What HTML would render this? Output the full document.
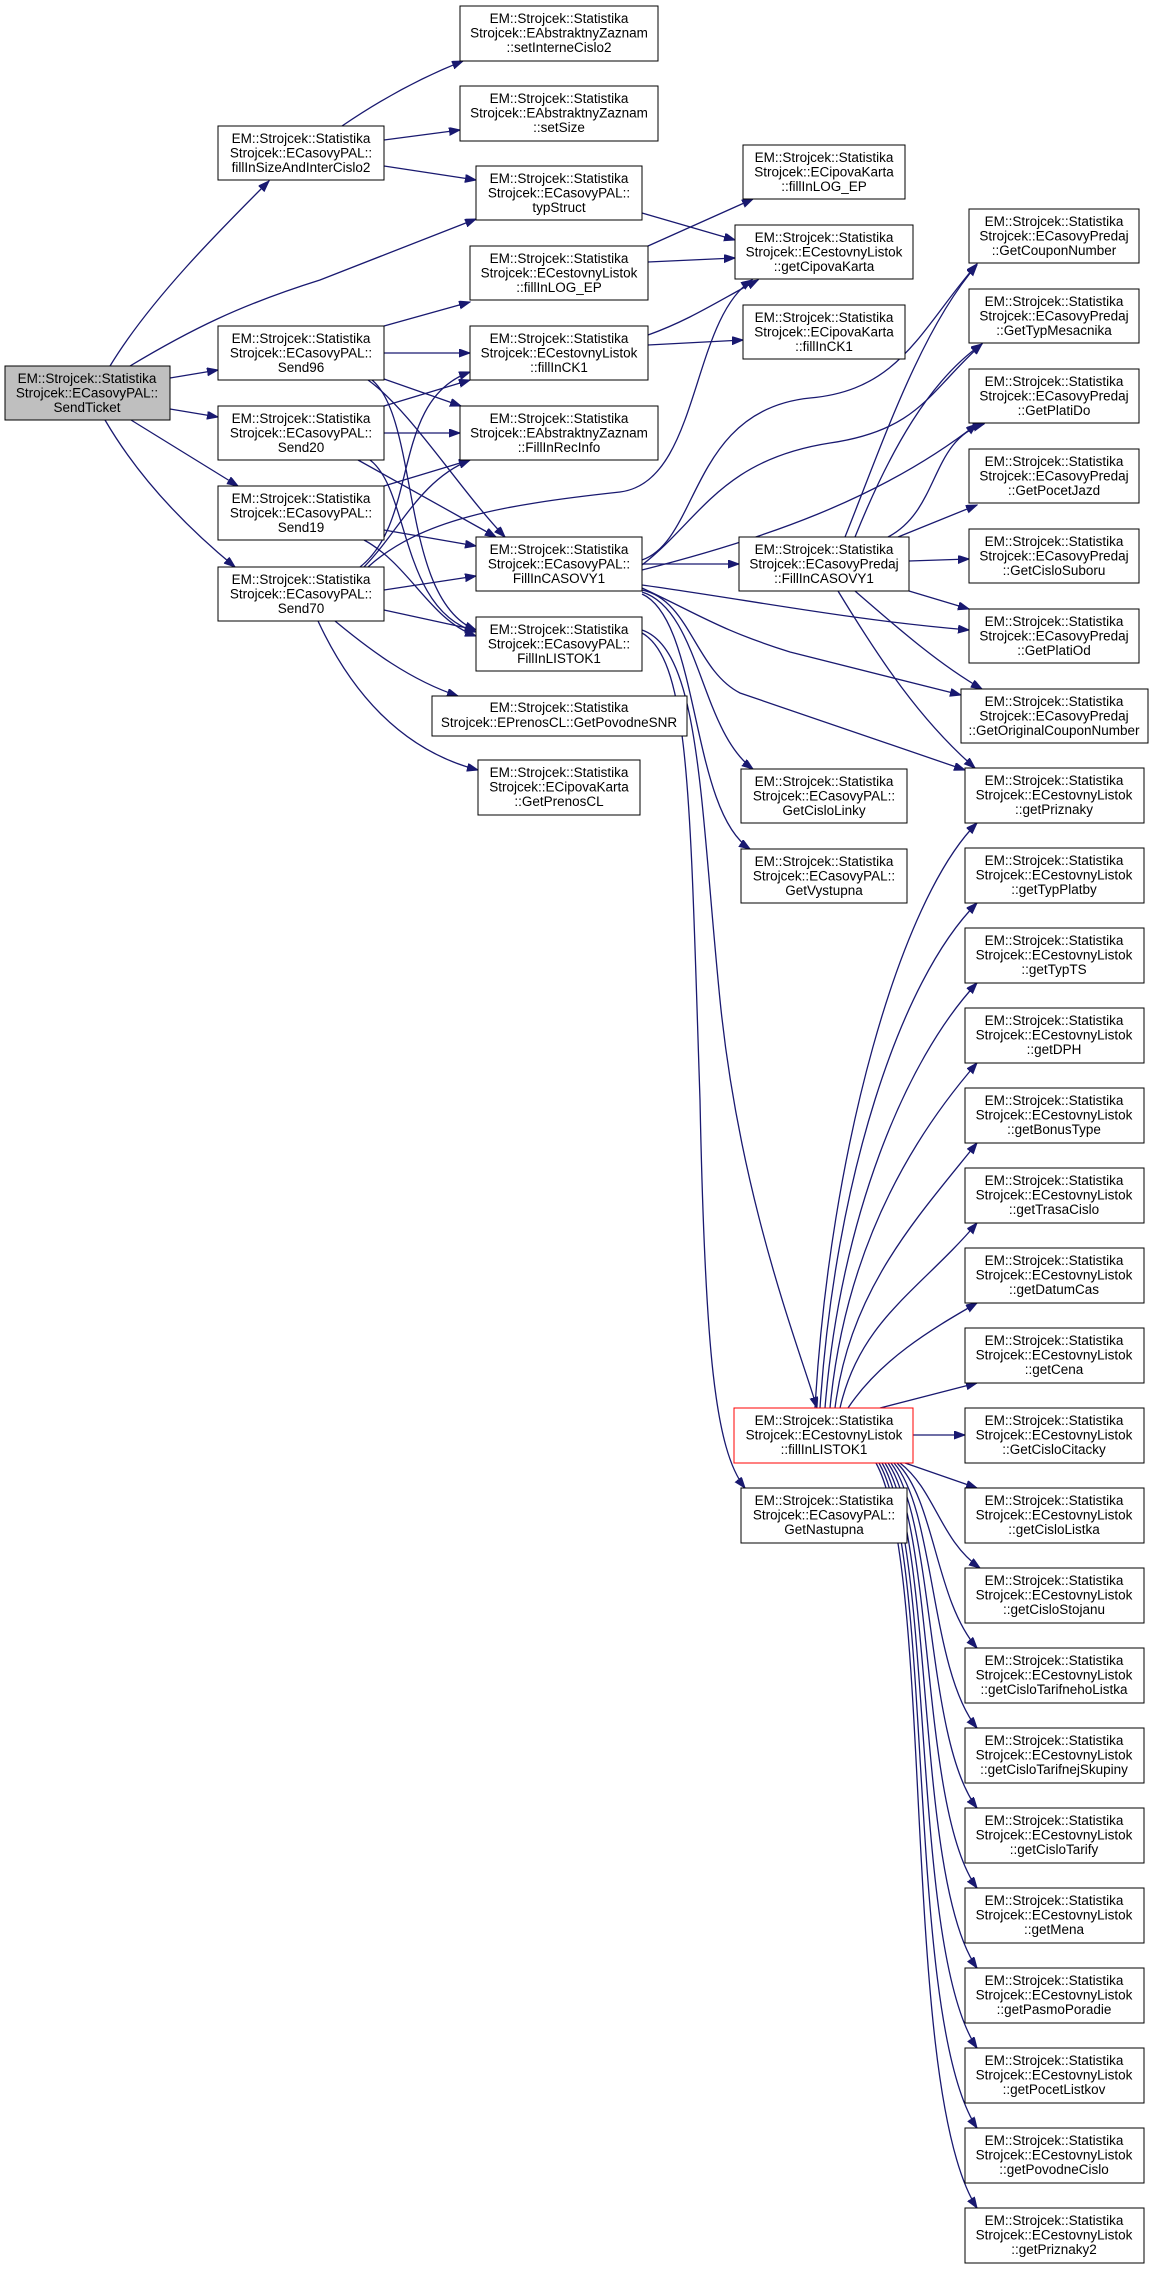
<!DOCTYPE html>
<html><head><meta charset="utf-8"><style>
html,body{margin:0;padding:0;background:#fff}
svg{display:block}
text{font-family:"Liberation Sans",sans-serif;font-size:13.5px;fill:#000}
.n{fill:#fff;stroke:#000;stroke-width:1}
.e{fill:none;stroke:#191970;stroke-width:1.3}
</style></head><body>
<svg width="1153" height="2269" viewBox="0 0 1153 2269" xmlns="http://www.w3.org/2000/svg">
<defs><marker id="a" markerUnits="userSpaceOnUse" markerWidth="12" markerHeight="9" refX="11" refY="4" orient="auto"><path d="M0,0 L11,4 L0,8 z" fill="#191970" stroke="#191970"/></marker></defs>
<g class="edges" marker-end="url(#a)">
<path class="e" marker-end="url(#a)" d="M110,366 C150,300 220,230 269,181"/>
<path class="e" marker-end="url(#a)" d="M130,366 C190,330 240,305 320,280 L476,219"/>
<path class="e" marker-end="url(#a)" d="M170,378 L218,370"/>
<path class="e" marker-end="url(#a)" d="M170,409 L218,417"/>
<path class="e" marker-end="url(#a)" d="M131,420 L238,486"/>
<path class="e" marker-end="url(#a)" d="M105,420 C140,480 190,530 235,567"/>
<path class="e" marker-end="url(#a)" d="M342,126 C380,100 420,78 463,61"/>
<path class="e" marker-end="url(#a)" d="M384,140 L460,130"/>
<path class="e" marker-end="url(#a)" d="M384,166 L476,180"/>
<path class="e" marker-end="url(#a)" d="M384,326 L470,302"/>
<path class="e" marker-end="url(#a)" d="M384,353 L470,353"/>
<path class="e" marker-end="url(#a)" d="M384,379 L461,406"/>
<path class="e" marker-end="url(#a)" d="M368,380 C410,410 460,490 505,537"/>
<path class="e" marker-end="url(#a)" d="M372,380 C420,420 400,600 476,630"/>
<path class="e" marker-end="url(#a)" d="M384,406 L470,380"/>
<path class="e" marker-end="url(#a)" d="M384,433 L460,433"/>
<path class="e" marker-end="url(#a)" d="M358,460 L496,537"/>
<path class="e" marker-end="url(#a)" d="M370,460 C410,490 400,610 476,632"/>
<path class="e" marker-end="url(#a)" d="M384,486 L470,460"/>
<path class="e" marker-end="url(#a)" d="M384,530 L476,546"/>
<path class="e" marker-end="url(#a)" d="M364,540 C410,565 430,620 476,636"/>
<path class="e" marker-end="url(#a)" d="M360,567 C420,520 390,400 470,372"/>
<path class="e" marker-end="url(#a)" d="M364,567 C400,530 420,480 470,460"/>
<path class="e" marker-end="url(#a)" d="M368,567 C420,520 500,505 620,492 C700,482 690,320 752,280"/>
<path class="e" marker-end="url(#a)" d="M384,590 L476,576"/>
<path class="e" marker-end="url(#a)" d="M384,610 L476,630"/>
<path class="e" marker-end="url(#a)" d="M335,621 C370,650 410,680 458,696"/>
<path class="e" marker-end="url(#a)" d="M318,621 C350,690 400,750 478,770"/>
<path class="e" marker-end="url(#a)" d="M642,213 L735,240"/>
<path class="e" marker-end="url(#a)" d="M648,246 L753,199"/>
<path class="e" marker-end="url(#a)" d="M648,262 L735,258"/>
<path class="e" marker-end="url(#a)" d="M648,335 C690,320 720,300 758,280"/>
<path class="e" marker-end="url(#a)" d="M648,345 L743,340"/>
<path class="e" marker-end="url(#a)" d="M642,560 C700,540 690,410 810,398 C900,390 920,330 977,264"/>
<path class="e" marker-end="url(#a)" d="M642,565 C700,520 720,460 830,443 C920,430 930,390 982,344"/>
<path class="e" marker-end="url(#a)" d="M642,570 C760,540 880,500 977,424"/>
<path class="e" marker-end="url(#a)" d="M642,564 L739,564"/>
<path class="e" marker-end="url(#a)" d="M642,585 C750,600 850,620 969,630"/>
<path class="e" marker-end="url(#a)" d="M642,588 C700,615 720,630 790,652 L961,695"/>
<path class="e" marker-end="url(#a)" d="M642,590 C690,600 695,670 740,693 L965,770"/>
<path class="e" marker-end="url(#a)" d="M642,592 C700,610 700,730 753,769"/>
<path class="e" marker-end="url(#a)" d="M642,594 C700,620 690,810 750,849"/>
<path class="e" marker-end="url(#a)" d="M845,537 C880,450 920,330 977,265"/>
<path class="e" marker-end="url(#a)" d="M855,537 C890,450 930,380 982,344"/>
<path class="e" marker-end="url(#a)" d="M888,537 C940,510 930,440 984,424"/>
<path class="e" marker-end="url(#a)" d="M898,537 L977,505"/>
<path class="e" marker-end="url(#a)" d="M909,561 L969,559"/>
<path class="e" marker-end="url(#a)" d="M909,591 L969,609"/>
<path class="e" marker-end="url(#a)" d="M855,591 C900,630 940,665 982,689"/>
<path class="e" marker-end="url(#a)" d="M838,591 C880,660 920,720 975,768"/>
<path class="e" marker-end="url(#a)" d="M642,630 C700,650 700,800 720,1000 C740,1200 800,1350 817,1408"/>
<path class="e" marker-end="url(#a)" d="M642,633 C690,660 690,800 700,1100 C705,1350 715,1450 745,1488"/>
<path class="e" marker-end="url(#a)" d="M815,1408 C830,1150 900,900 977,823"/>
<path class="e" marker-end="url(#a)" d="M820,1408 C835,1180 900,980 977,903"/>
<path class="e" marker-end="url(#a)" d="M825,1408 C840,1220 905,1060 977,983"/>
<path class="e" marker-end="url(#a)" d="M830,1408 C845,1250 910,1140 977,1063"/>
<path class="e" marker-end="url(#a)" d="M835,1408 C850,1290 915,1220 977,1143"/>
<path class="e" marker-end="url(#a)" d="M840,1408 C860,1320 920,1290 977,1223"/>
<path class="e" marker-end="url(#a)" d="M848,1408 C880,1360 930,1330 977,1303"/>
<path class="e" marker-end="url(#a)" d="M880,1408 L977,1383"/>
<path class="e" marker-end="url(#a)" d="M913,1435 L965,1435"/>
<path class="e" marker-end="url(#a)" d="M905,1463 L977,1488"/>
<path class="e" marker-end="url(#a)" d="M900,1463 C935,1490 940,1540 980,1568"/>
<path class="e" marker-end="url(#a)" d="M897,1463 C935,1500 935,1600 977,1648"/>
<path class="e" marker-end="url(#a)" d="M894,1463 C935,1510 930,1670 977,1728"/>
<path class="e" marker-end="url(#a)" d="M891,1463 C935,1520 925,1740 977,1808"/>
<path class="e" marker-end="url(#a)" d="M888,1463 C935,1530 920,1810 977,1888"/>
<path class="e" marker-end="url(#a)" d="M885,1463 C935,1540 915,1880 977,1968"/>
<path class="e" marker-end="url(#a)" d="M882,1463 C935,1550 910,1950 977,2048"/>
<path class="e" marker-end="url(#a)" d="M879,1463 C935,1560 905,2020 977,2128"/>
<path class="e" marker-end="url(#a)" d="M876,1463 C935,1570 900,2090 977,2208"/>
</g>

<g text-anchor="middle">
<rect x="5" y="366" width="165" height="54" fill="#bfbfbf" stroke="#000"/>
<text x="87" y="383">EM::Strojcek::Statistika</text><text x="87" y="397.5">Strojcek::ECasovyPAL::</text><text x="87" y="412">SendTicket</text>

<rect class="n" x="218" y="126" width="166" height="54"/><text x="301" y="143">EM::Strojcek::Statistika</text><text x="301" y="157.5">Strojcek::ECasovyPAL::</text><text x="301" y="172">fillInSizeAndInterCislo2</text>
<rect class="n" x="218" y="326" width="166" height="54"/><text x="301" y="343">EM::Strojcek::Statistika</text><text x="301" y="357.5">Strojcek::ECasovyPAL::</text><text x="301" y="372">Send96</text>
<rect class="n" x="218" y="406" width="166" height="54"/><text x="301" y="423">EM::Strojcek::Statistika</text><text x="301" y="437.5">Strojcek::ECasovyPAL::</text><text x="301" y="452">Send20</text>
<rect class="n" x="218" y="486" width="166" height="54"/><text x="301" y="503">EM::Strojcek::Statistika</text><text x="301" y="517.5">Strojcek::ECasovyPAL::</text><text x="301" y="532">Send19</text>
<rect class="n" x="218" y="567" width="166" height="54"/><text x="301" y="584">EM::Strojcek::Statistika</text><text x="301" y="598.5">Strojcek::ECasovyPAL::</text><text x="301" y="613">Send70</text>

<rect class="n" x="460" y="6" width="198" height="55"/><text x="559" y="23">EM::Strojcek::Statistika</text><text x="559" y="37.5">Strojcek::EAbstraktnyZaznam</text><text x="559" y="52">::setInterneCislo2</text>
<rect class="n" x="460" y="86" width="198" height="55"/><text x="559" y="103">EM::Strojcek::Statistika</text><text x="559" y="117.5">Strojcek::EAbstraktnyZaznam</text><text x="559" y="132">::setSize</text>
<rect class="n" x="476" y="166" width="166" height="54"/><text x="559" y="183">EM::Strojcek::Statistika</text><text x="559" y="197.5">Strojcek::ECasovyPAL::</text><text x="559" y="212">typStruct</text>
<rect class="n" x="470" y="246" width="178" height="54"/><text x="559" y="263">EM::Strojcek::Statistika</text><text x="559" y="277.5">Strojcek::ECestovnyListok</text><text x="559" y="292">::fillInLOG_EP</text>
<rect class="n" x="470" y="326" width="178" height="54"/><text x="559" y="343">EM::Strojcek::Statistika</text><text x="559" y="357.5">Strojcek::ECestovnyListok</text><text x="559" y="372">::fillInCK1</text>
<rect class="n" x="460" y="406" width="198" height="54"/><text x="559" y="423">EM::Strojcek::Statistika</text><text x="559" y="437.5">Strojcek::EAbstraktnyZaznam</text><text x="559" y="452">::FillInRecInfo</text>
<rect class="n" x="476" y="537" width="166" height="54"/><text x="559" y="554">EM::Strojcek::Statistika</text><text x="559" y="568.5">Strojcek::ECasovyPAL::</text><text x="559" y="583">FillInCASOVY1</text>
<rect class="n" x="476" y="617" width="166" height="54"/><text x="559" y="634">EM::Strojcek::Statistika</text><text x="559" y="648.5">Strojcek::ECasovyPAL::</text><text x="559" y="663">FillInLISTOK1</text>
<rect class="n" x="432" y="696" width="255" height="40"/><text x="559" y="712">EM::Strojcek::Statistika</text><text x="559" y="727">Strojcek::EPrenosCL::GetPovodneSNR</text>
<rect class="n" x="478" y="760" width="162" height="55"/><text x="559" y="777">EM::Strojcek::Statistika</text><text x="559" y="791.5">Strojcek::ECipovaKarta</text><text x="559" y="806">::GetPrenosCL</text>

<rect class="n" x="743" y="145" width="162" height="54"/><text x="824" y="162">EM::Strojcek::Statistika</text><text x="824" y="176.5">Strojcek::ECipovaKarta</text><text x="824" y="191">::fillInLOG_EP</text>
<rect class="n" x="735" y="225" width="178" height="54"/><text x="824" y="242">EM::Strojcek::Statistika</text><text x="824" y="256.5">Strojcek::ECestovnyListok</text><text x="824" y="271">::getCipovaKarta</text>
<rect class="n" x="743" y="305" width="162" height="54"/><text x="824" y="322">EM::Strojcek::Statistika</text><text x="824" y="336.5">Strojcek::ECipovaKarta</text><text x="824" y="351">::fillInCK1</text>
<rect class="n" x="739" y="537" width="170" height="54"/><text x="824" y="554">EM::Strojcek::Statistika</text><text x="824" y="568.5">Strojcek::ECasovyPredaj</text><text x="824" y="583">::FillInCASOVY1</text>
<rect class="n" x="741" y="769" width="166" height="54"/><text x="824" y="786">EM::Strojcek::Statistika</text><text x="824" y="800.5">Strojcek::ECasovyPAL::</text><text x="824" y="815">GetCisloLinky</text>
<rect class="n" x="741" y="849" width="166" height="54"/><text x="824" y="866">EM::Strojcek::Statistika</text><text x="824" y="880.5">Strojcek::ECasovyPAL::</text><text x="824" y="895">GetVystupna</text>
<rect x="734" y="1408" width="179" height="55" fill="#fff" stroke="#ff0000"/><text x="824" y="1425">EM::Strojcek::Statistika</text><text x="824" y="1439.5">Strojcek::ECestovnyListok</text><text x="824" y="1454">::fillInLISTOK1</text>
<rect class="n" x="741" y="1488" width="166" height="55"/><text x="824" y="1505">EM::Strojcek::Statistika</text><text x="824" y="1519.5">Strojcek::ECasovyPAL::</text><text x="824" y="1534">GetNastupna</text>

<rect class="n" x="969" y="209" width="170" height="54"/><text x="1054" y="226">EM::Strojcek::Statistika</text><text x="1054" y="240.5">Strojcek::ECasovyPredaj</text><text x="1054" y="255">::GetCouponNumber</text>
<rect class="n" x="969" y="289" width="170" height="54"/><text x="1054" y="306">EM::Strojcek::Statistika</text><text x="1054" y="320.5">Strojcek::ECasovyPredaj</text><text x="1054" y="335">::GetTypMesacnika</text>
<rect class="n" x="969" y="369" width="170" height="54"/><text x="1054" y="386">EM::Strojcek::Statistika</text><text x="1054" y="400.5">Strojcek::ECasovyPredaj</text><text x="1054" y="415">::GetPlatiDo</text>
<rect class="n" x="969" y="449" width="170" height="54"/><text x="1054" y="466">EM::Strojcek::Statistika</text><text x="1054" y="480.5">Strojcek::ECasovyPredaj</text><text x="1054" y="495">::GetPocetJazd</text>
<rect class="n" x="969" y="529" width="170" height="54"/><text x="1054" y="546">EM::Strojcek::Statistika</text><text x="1054" y="560.5">Strojcek::ECasovyPredaj</text><text x="1054" y="575">::GetCisloSuboru</text>
<rect class="n" x="969" y="609" width="170" height="54"/><text x="1054" y="626">EM::Strojcek::Statistika</text><text x="1054" y="640.5">Strojcek::ECasovyPredaj</text><text x="1054" y="655">::GetPlatiOd</text>
<rect class="n" x="961" y="689" width="187" height="54"/><text x="1054" y="706">EM::Strojcek::Statistika</text><text x="1054" y="720.5">Strojcek::ECasovyPredaj</text><text x="1054" y="735">::GetOriginalCouponNumber</text>

<rect class="n" x="965" y="768" width="179" height="55"/><text x="1054" y="785">EM::Strojcek::Statistika</text><text x="1054" y="799.5">Strojcek::ECestovnyListok</text><text x="1054" y="814">::getPriznaky</text>
<rect class="n" x="965" y="848" width="179" height="55"/><text x="1054" y="865">EM::Strojcek::Statistika</text><text x="1054" y="879.5">Strojcek::ECestovnyListok</text><text x="1054" y="894">::getTypPlatby</text>
<rect class="n" x="965" y="928" width="179" height="55"/><text x="1054" y="945">EM::Strojcek::Statistika</text><text x="1054" y="959.5">Strojcek::ECestovnyListok</text><text x="1054" y="974">::getTypTS</text>
<rect class="n" x="965" y="1008" width="179" height="55"/><text x="1054" y="1025">EM::Strojcek::Statistika</text><text x="1054" y="1039.5">Strojcek::ECestovnyListok</text><text x="1054" y="1054">::getDPH</text>
<rect class="n" x="965" y="1088" width="179" height="55"/><text x="1054" y="1105">EM::Strojcek::Statistika</text><text x="1054" y="1119.5">Strojcek::ECestovnyListok</text><text x="1054" y="1134">::getBonusType</text>
<rect class="n" x="965" y="1168" width="179" height="55"/><text x="1054" y="1185">EM::Strojcek::Statistika</text><text x="1054" y="1199.5">Strojcek::ECestovnyListok</text><text x="1054" y="1214">::getTrasaCislo</text>
<rect class="n" x="965" y="1248" width="179" height="55"/><text x="1054" y="1265">EM::Strojcek::Statistika</text><text x="1054" y="1279.5">Strojcek::ECestovnyListok</text><text x="1054" y="1294">::getDatumCas</text>
<rect class="n" x="965" y="1328" width="179" height="55"/><text x="1054" y="1345">EM::Strojcek::Statistika</text><text x="1054" y="1359.5">Strojcek::ECestovnyListok</text><text x="1054" y="1374">::getCena</text>
<rect class="n" x="965" y="1408" width="179" height="55"/><text x="1054" y="1425">EM::Strojcek::Statistika</text><text x="1054" y="1439.5">Strojcek::ECestovnyListok</text><text x="1054" y="1454">::GetCisloCitacky</text>
<rect class="n" x="965" y="1488" width="179" height="55"/><text x="1054" y="1505">EM::Strojcek::Statistika</text><text x="1054" y="1519.5">Strojcek::ECestovnyListok</text><text x="1054" y="1534">::getCisloListka</text>
<rect class="n" x="965" y="1568" width="179" height="55"/><text x="1054" y="1585">EM::Strojcek::Statistika</text><text x="1054" y="1599.5">Strojcek::ECestovnyListok</text><text x="1054" y="1614">::getCisloStojanu</text>
<rect class="n" x="965" y="1648" width="179" height="55"/><text x="1054" y="1665">EM::Strojcek::Statistika</text><text x="1054" y="1679.5">Strojcek::ECestovnyListok</text><text x="1054" y="1694">::getCisloTarifnehoListka</text>
<rect class="n" x="965" y="1728" width="179" height="55"/><text x="1054" y="1745">EM::Strojcek::Statistika</text><text x="1054" y="1759.5">Strojcek::ECestovnyListok</text><text x="1054" y="1774">::getCisloTarifnejSkupiny</text>
<rect class="n" x="965" y="1808" width="179" height="55"/><text x="1054" y="1825">EM::Strojcek::Statistika</text><text x="1054" y="1839.5">Strojcek::ECestovnyListok</text><text x="1054" y="1854">::getCisloTarify</text>
<rect class="n" x="965" y="1888" width="179" height="55"/><text x="1054" y="1905">EM::Strojcek::Statistika</text><text x="1054" y="1919.5">Strojcek::ECestovnyListok</text><text x="1054" y="1934">::getMena</text>
<rect class="n" x="965" y="1968" width="179" height="55"/><text x="1054" y="1985">EM::Strojcek::Statistika</text><text x="1054" y="1999.5">Strojcek::ECestovnyListok</text><text x="1054" y="2014">::getPasmoPoradie</text>
<rect class="n" x="965" y="2048" width="179" height="55"/><text x="1054" y="2065">EM::Strojcek::Statistika</text><text x="1054" y="2079.5">Strojcek::ECestovnyListok</text><text x="1054" y="2094">::getPocetListkov</text>
<rect class="n" x="965" y="2128" width="179" height="55"/><text x="1054" y="2145">EM::Strojcek::Statistika</text><text x="1054" y="2159.5">Strojcek::ECestovnyListok</text><text x="1054" y="2174">::getPovodneCislo</text>
<rect class="n" x="965" y="2208" width="179" height="55"/><text x="1054" y="2225">EM::Strojcek::Statistika</text><text x="1054" y="2239.5">Strojcek::ECestovnyListok</text><text x="1054" y="2254">::getPriznaky2</text>
</g>
</svg>
</body></html>
